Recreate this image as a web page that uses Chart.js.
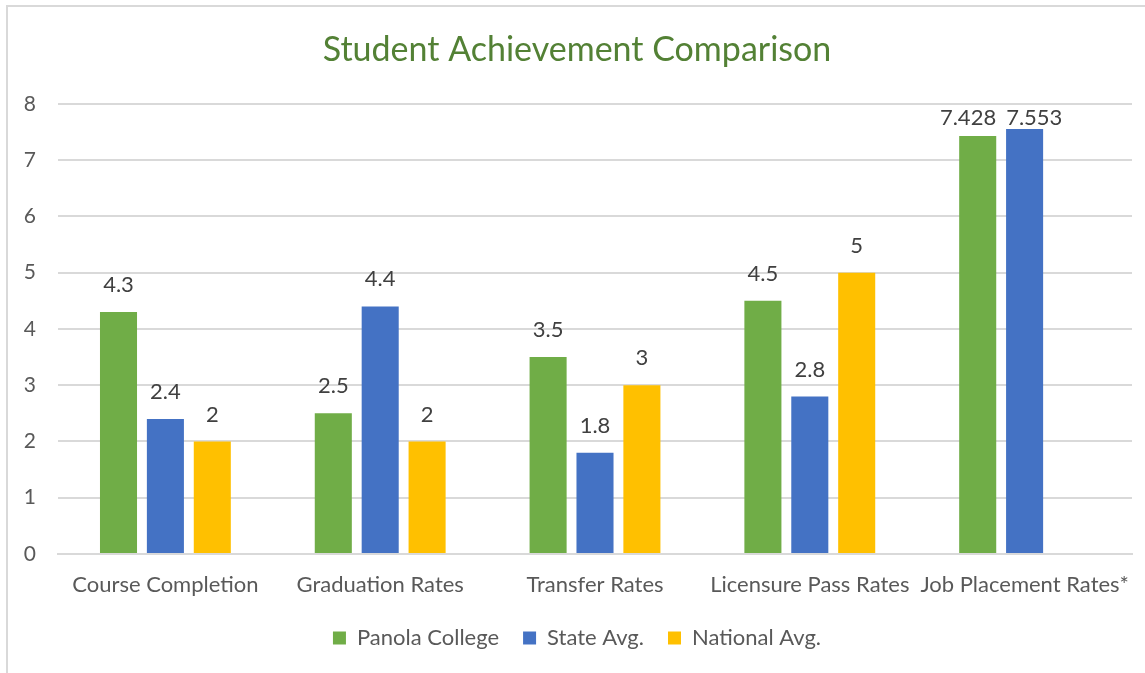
<!DOCTYPE html>
<html>
<head>
<meta charset="utf-8">
<script src="https://cdn.jsdelivr.net/npm/chart.js@4"></script>
<style>
  body { margin: 0; background: #fff; }
  #frame { position: absolute; left: 6px; top: 5px; width: 1200px; height: 700px;
           border-left: 2px solid #d9d9d9; border-top: 2px solid #d9d9d9; }
  #chart { position: absolute; left: 0; top: 0; }
</style>
</head>
<body>
<div id="frame"></div>
<canvas id="chart" width="1145" height="673"></canvas>
<script>
const categories = ["Course Completion", "Graduation Rates", "Transfer Rates", "Licensure Pass Rates", "Job Placement Rates*"];
const panola = [4.3, 2.5, 3.5, 4.5, 7.428];
const stateAvg = [2.4, 4.4, 1.8, 2.8, 7.553];
const nationalAvg = [2, 2, 3, 5, null];

const FONT = "Lato, 'Open Sans', sans-serif";

// draws the value above each bar, kept inside the plot and pushed apart when two collide
const barLabels = {
  id: "barLabels",
  afterDatasetsDraw(chart) {
    const ctx = chart.ctx;
    const top = chart.chartArea.top;
    ctx.save();
    ctx.font = "22px " + FONT;
    ctx.fillStyle = "#404040";
    ctx.textAlign = "center";
    ctx.textBaseline = "middle";
    chart.data.labels.forEach((_, j) => {
      const items = [];
      chart.data.datasets.forEach((ds, i) => {
        const v = ds.data[j];
        if (v === null || v === undefined) return;
        const bar = chart.getDatasetMeta(i).data[j];
        const text = String(v);
        items.push({ text, x: bar.x, y: Math.max(bar.y - 27, top + 14), w: ctx.measureText(text).width });
      });
      for (let k = 1; k < items.length; k++) {
        const a = items[k - 1], b = items[k];
        if (Math.abs(a.y - b.y) > 20) continue;
        const overlap = (a.x + a.w / 2 + 10) - (b.x - b.w / 2);
        if (overlap > 0) { a.x -= overlap / 2; b.x += overlap / 2; }
      }
      items.forEach(it => ctx.fillText(it.text, it.x, it.y));
    });
    ctx.restore();
  }
};

new Chart(document.getElementById("chart"), {
  type: "bar",
  data: {
    labels: categories,
    datasets: [
      { label: "Panola College", data: panola, backgroundColor: "#70ad47" },
      { label: "State Avg.", data: stateAvg, backgroundColor: "#4472c4" },
      { label: "National Avg.", data: nationalAvg, backgroundColor: "#ffc000" },
    ],
  },
  options: {
    responsive: false,
    animation: false,
    datasets: { bar: { categoryPercentage: 0.655, barPercentage: 0.79 } },
    layout: { padding: { left: 22, right: 13, bottom: 14 } },
    scales: {
      x: {
        grid: { display: false },
        border: { color: "#d9d9d9", width: 2 },
        ticks: { color: "#595959", font: { family: FONT, size: 22 }, padding: 10, maxRotation: 0, autoSkip: false },
        afterFit(s) { s.height = 49; },
      },
      y: {
        min: 0, max: 8,
        ticks: { stepSize: 1, color: "#595959", font: { family: FONT, size: 21 }, padding: 22 },
        grid: { color: "#d9d9d9", lineWidth: 2, drawTicks: false },
        border: { display: false },
        afterFit(s) { s.width = 36; },
      },
    },
    plugins: {
      title: {
        display: true,
        text: "Student Achievement Comparison",
        color: "#538135",
        font: { family: FONT, size: 34, weight: "normal" },
        padding: { top: 30, bottom: 33 },
      },
      legend: {
        position: "bottom",
        labels: { color: "#595959", font: { family: FONT, size: 22 }, boxWidth: 13, boxHeight: 13, padding: 24 },
      },
      tooltip: { enabled: false },
    },
  },
  plugins: [barLabels],
});
</script>
</body>
</html>
